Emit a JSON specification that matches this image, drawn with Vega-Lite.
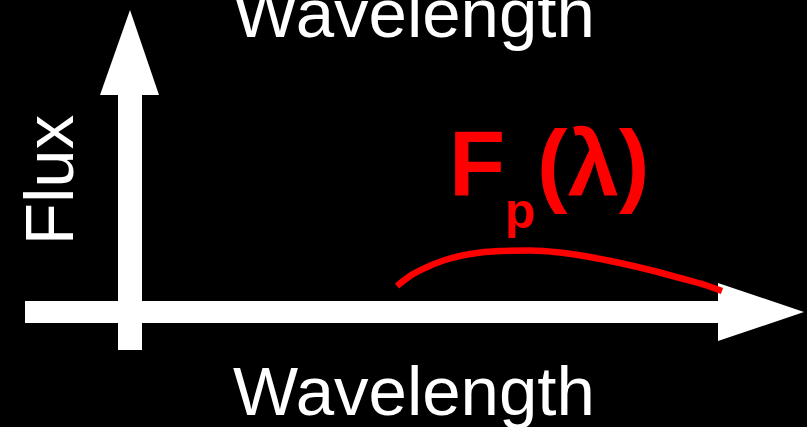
{
  "$schema": "https://vega.github.io/schema/vega-lite/v6.json",
  "width": 807,
  "height": 427,
  "autosize": {"type": "none"},
  "padding": 0,
  "background": "#000000",
  "config": {"view": {"stroke": null}, "axis": {"disable": true}},
  "datasets": {
    "bars": [
      {"name": "flux_axis", "x0": 118, "x1": 142, "y0": 94, "y1": 350},
      {"name": "wavelength_axis", "x0": 25, "x1": 719, "y0": 301, "y1": 323}
    ],
    "head_v": [
      {"x": 100, "tip": 95, "base": 95},
      {"x": 130, "tip": 10, "base": 95},
      {"x": 159, "tip": 95, "base": 95}
    ],
    "head_h": [
      {"y": 283, "tip": 718, "base": 718},
      {"y": 312, "tip": 804, "base": 718},
      {"y": 341, "tip": 718, "base": 718}
    ],
    "curve": [
      {"x": 397, "y": 286},
      {"x": 410, "y": 276},
      {"x": 425, "y": 268},
      {"x": 445, "y": 260},
      {"x": 470, "y": 254},
      {"x": 500, "y": 251},
      {"x": 530, "y": 250.5},
      {"x": 560, "y": 252.5},
      {"x": 590, "y": 257},
      {"x": 620, "y": 263},
      {"x": 650, "y": 270},
      {"x": 680, "y": 278},
      {"x": 705, "y": 285},
      {"x": 722, "y": 291}
    ],
    "white_labels": [
      {"label": "Wavelength", "x": 414, "y": 415},
      {"label": "Wavelength", "x": 414, "y": 37}
    ],
    "flux_label": [
      {"label": "Flux", "x": 73, "y": 180}
    ],
    "red_big": [
      {"label": "F", "x": 449, "y": 195},
      {"label": "(λ)", "x": 537, "y": 195}
    ],
    "red_sub": [
      {"label": "p", "x": 505, "y": 228}
    ]
  },
  "layer": [
    {
      "data": {"name": "bars"},
      "mark": {"type": "rect", "color": "#ffffff"},
      "encoding": {
        "x": {"field": "x0", "type": "quantitative", "scale": {"domain": [0, 807], "nice": false, "zero": false}},
        "x2": {"field": "x1"},
        "y": {"field": "y0", "type": "quantitative", "scale": {"domain": [0, 427], "nice": false, "zero": false, "reverse": true}},
        "y2": {"field": "y1"}
      }
    },
    {
      "data": {"name": "head_v"},
      "mark": {"type": "area", "color": "#ffffff", "orient": "vertical"},
      "encoding": {
        "x": {"field": "x", "type": "quantitative"},
        "y": {"field": "tip", "type": "quantitative"},
        "y2": {"field": "base"}
      }
    },
    {
      "data": {"name": "head_h"},
      "mark": {"type": "area", "color": "#ffffff", "orient": "horizontal"},
      "encoding": {
        "y": {"field": "y", "type": "quantitative"},
        "x": {"field": "tip", "type": "quantitative"},
        "x2": {"field": "base"}
      }
    },
    {
      "data": {"name": "curve"},
      "mark": {"type": "line", "color": "#ff0000", "strokeWidth": 6.5, "strokeCap": "butt", "interpolate": "monotone"},
      "encoding": {
        "x": {"field": "x", "type": "quantitative"},
        "y": {"field": "y", "type": "quantitative"}
      }
    },
    {
      "data": {"name": "white_labels"},
      "mark": {"type": "text", "color": "#ffffff", "font": "Liberation Sans", "fontSize": 69, "align": "center", "baseline": "alphabetic"},
      "encoding": {
        "x": {"field": "x", "type": "quantitative"},
        "y": {"field": "y", "type": "quantitative"},
        "text": {"field": "label"}
      }
    },
    {
      "data": {"name": "flux_label"},
      "mark": {"type": "text", "color": "#ffffff", "font": "Liberation Sans", "fontSize": 69, "align": "center", "baseline": "alphabetic", "angle": 270},
      "encoding": {
        "x": {"field": "x", "type": "quantitative"},
        "y": {"field": "y", "type": "quantitative"},
        "text": {"field": "label"}
      }
    },
    {
      "data": {"name": "red_big"},
      "mark": {"type": "text", "color": "#ff0000", "font": "Liberation Sans", "fontWeight": "bold", "fontSize": 92, "align": "left", "baseline": "alphabetic"},
      "encoding": {
        "x": {"field": "x", "type": "quantitative"},
        "y": {"field": "y", "type": "quantitative"},
        "text": {"field": "label"}
      }
    },
    {
      "data": {"name": "red_sub"},
      "mark": {"type": "text", "color": "#ff0000", "font": "Liberation Sans", "fontWeight": "bold", "fontSize": 50, "align": "left", "baseline": "alphabetic"},
      "encoding": {
        "x": {"field": "x", "type": "quantitative"},
        "y": {"field": "y", "type": "quantitative"},
        "text": {"field": "label"}
      }
    }
  ]
}
